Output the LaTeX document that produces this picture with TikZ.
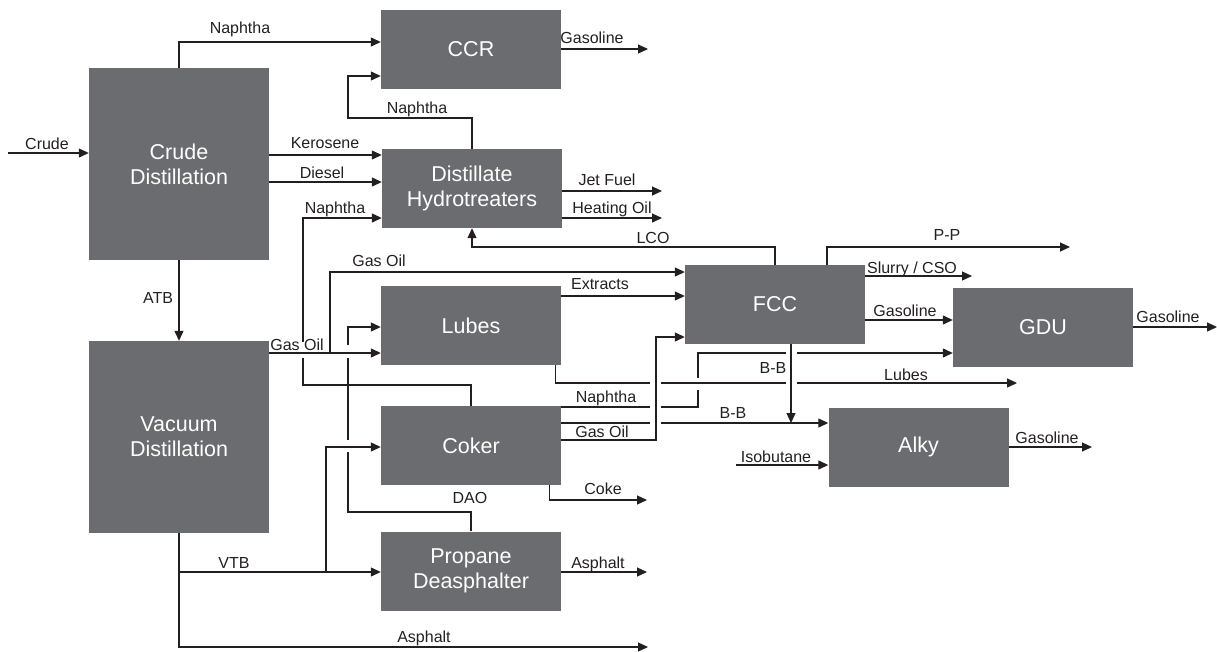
\documentclass[tikz,border=0pt]{standalone}
\usepackage{fontspec}
\setmainfont{Liberation Sans}
\usetikzlibrary{arrows.meta}
\definecolor{boxgray}{RGB}{107,108,112}
\definecolor{ink}{RGB}{35,31,32}
\begin{document}
\begin{tikzpicture}[x=1pt,y=-1pt,
  unit/.style={fill=boxgray, draw=none, text=white, minimum width=180pt, minimum height=79pt, inner sep=0pt, align=center, font=\fontsize{21.5}{25}\selectfont},
  flow/.style={draw=ink, line width=1.2pt, -{Triangle[length=10pt,width=9pt]}},
  lbl/.style={font=\fontsize{16}{18}\selectfont, inner sep=0pt, text=ink, text height=11.5pt, text depth=0pt},
  gapmask/.style={draw=white, line width=4pt}
]
\useasboundingbox (0,0) rectangle (1217,651);
% units
\node[unit] (CCR) at (471,49.5) {CCR};
\node[unit, minimum height=192pt] (CD) at (179,164) {Crude\\Distillation};
\node[unit] (HT) at (472,188.5) {Distillate\\Hydrotreaters};
\node[unit, minimum height=192pt] (VD) at (179,437) {Vacuum\\Distillation};
\node[unit] (LU) at (471,325.5) {Lubes};
\node[unit] (CK) at (471,445.5) {Coker};
\node[unit] (PD) at (471,571) {Propane\\Deasphalter};
\node[unit] (FCC) at (775,304.5) {FCC};
\node[unit] (GDU) at (1043,327) {GDU};
\node[unit] (AL) at (918.5,447) {Alky};
% free ends and junctions
\coordinate (crudeIn) at (8,153);
\coordinate (ccrOut) at (648,49);
\coordinate (jetOut) at (662,191);
\coordinate (hoOut) at (662,218);
\coordinate (ppOut) at (1070,247);
\coordinate (csoOut) at (972,276);
\coordinate (gduOut) at (1217,327);
\coordinate (lubesOut) at (1017,383);
\coordinate (cokeOut) at (647,500);
\coordinate (pdaOut) at (647,572);
\coordinate (asphOut) at (648,647);
\coordinate (alkyOut) at (1092,447);
\coordinate (isoIn) at (736,465);
\coordinate (goBranch) at (330,353);
\coordinate (vtbBranch) at (326,572);
\coordinate (bbJoin) at (791,423);
% simple flows
\draw[flow] (crudeIn) -- (crudeIn -| CD.west);
\draw[flow] (CD.north) |- (CCR.west |- 0,42);
\draw[flow] (HT.north) |- (348,118) |- (CCR.west |- 0,76);
\draw[flow] (CD.east |- 0,155) -- (HT.west |- 0,155);
\draw[flow] (CD.east |- 0,182) -- (HT.west |- 0,182);
\draw[flow] (CCR.east |- ccrOut) -- (ccrOut);
\draw[flow] (HT.east |- jetOut) -- (jetOut);
\draw[flow] (HT.east |- hoOut) -- (hoOut);
\draw[flow] (FCC.north) |- (HT.south |- 0,247) -- (HT.south);
\draw[flow] ([xshift=52pt]FCC.north) |- (ppOut);
\draw[flow] (FCC.east |- csoOut) -- (csoOut);
\draw[flow] (FCC.east |- 0,320) -- (GDU.west |- 0,320);
\draw[flow] (GDU.east |- gduOut) -- (gduOut);
\draw[flow] (LU.east |- 0,296) -- (FCC.west |- 0,296);
\draw[flow] (CD.south) -- (VD.north);
\draw[flow] (VD.south) |- (PD.west |- vtbBranch);
\draw[flow] (VD.south) |- (asphOut);
\draw[flow] (PD.east |- pdaOut) -- (pdaOut);
\draw[flow] ([xshift=-12pt]CK.south east) |- (cokeOut);
\draw[flow] (AL.east |- alkyOut) -- (alkyOut);
\draw[flow] (isoIn) -- (isoIn -| AL.west);
% right crossing group
\draw[flow] (CK.east |- 0,407) -| (698,353) -- (GDU.west |- 0,353);
\draw[gapmask] (698,378) -- (698,390);
\draw[gapmask] (650,407) -- (661,407);
\draw[gapmask] (786,353) -- (797,353);
\draw[flow] ([xshift=-6pt]LU.south east) |- (lubesOut);
\draw[gapmask] (650,383) -- (661,383);
\draw[gapmask] (786,383) -- (797,383);
\draw[flow] (CK.east |- 0,423) -- (AL.west |- 0,423);
\draw[gapmask] (650,423) -- (661,423);
\draw[flow] (CK.east |- 0,440) -| (656,337) -- (FCC.west |- 0,337);
\draw[flow] ([xshift=16pt]FCC.south) -- (bbJoin);
% left crossing group
\draw[flow] (CK.north) |- (303,385) |- (HT.west |- 0,218);
\draw[flow] (PD.north) |- (348,512) |- (LU.west |- 0,327);
\draw[gapmask] (303,342) -- (303,358);
\draw[gapmask] (348,345) -- (348,358);
\draw[gapmask] (348,440) -- (348,452);
\draw[flow] (VD.east |- goBranch) -- (LU.west |- goBranch);
\draw[flow] (goBranch) |- (FCC.west |- 0,272);
\draw[flow] (vtbBranch) |- (CK.west |- 0,447);
% labels
\node[lbl] at (47,144) {Crude};
\node[lbl] at (240,28) {Naphtha};
\node[lbl] at (417,108) {Naphtha};
\node[lbl] at (325,143) {Kerosene};
\node[lbl] at (322,173) {Diesel};
\node[lbl] at (335,208) {Naphtha};
\node[lbl] at (592,38) {Gasoline};
\node[lbl] at (607,180) {Jet Fuel};
\node[lbl] at (612,208) {Heating Oil};
\node[lbl] at (653,238) {LCO};
\node[lbl] at (947,235) {P-P};
\node[lbl] at (912,268) {Slurry / CSO};
\node[lbl] at (905,311) {Gasoline};
\node[lbl] at (1168,317) {Gasoline};
\node[lbl] at (379,261) {Gas Oil};
\node[lbl] at (600,284) {Extracts};
\node[lbl] at (297,345) {Gas Oil};
\node[lbl] at (158,298) {ATB};
\node[lbl] at (773,368) {B-B};
\node[lbl] at (906,375) {Lubes};
\node[lbl] at (606,397) {Naphtha};
\node[lbl] at (733,413) {B-B};
\node[lbl] at (602,432) {Gas Oil};
\node[lbl] at (776,457) {Isobutane};
\node[lbl] at (1047,438) {Gasoline};
\node[lbl] at (603,489) {Coke};
\node[lbl] at (470,498) {DAO};
\node[lbl] at (234,563) {VTB};
\node[lbl] at (598,563) {Asphalt};
\node[lbl] at (424,637) {Asphalt};
\end{tikzpicture}
\end{document}
